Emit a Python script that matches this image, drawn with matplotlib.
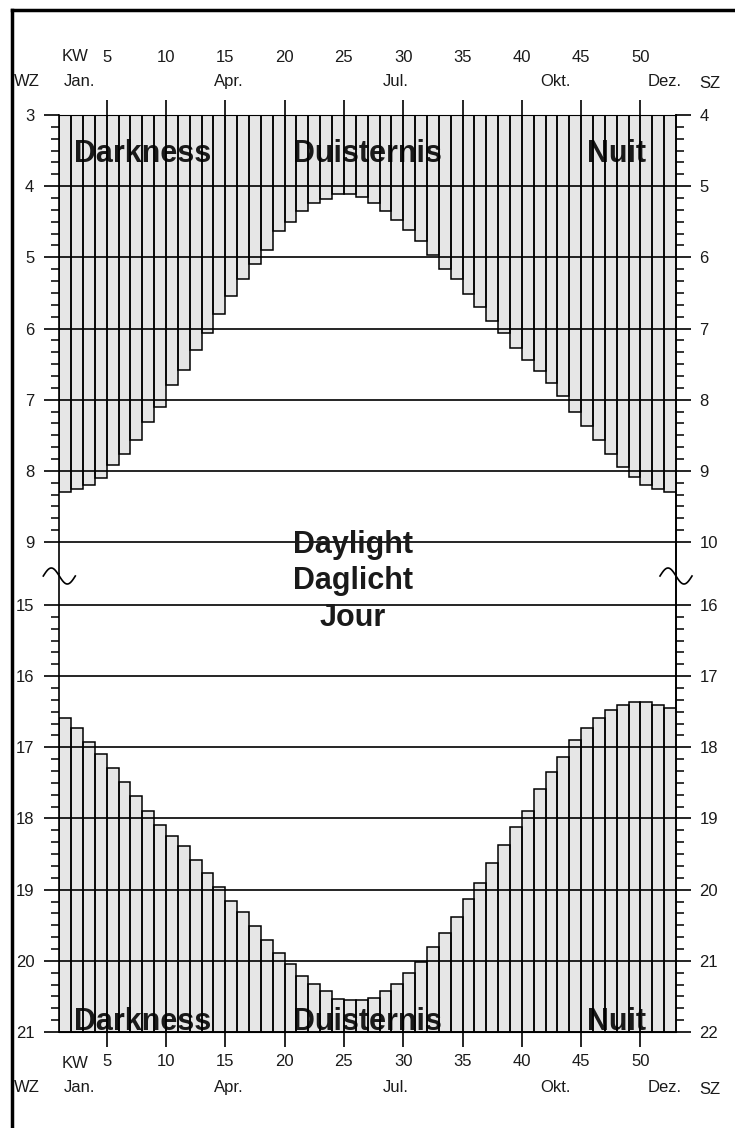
"""Weekly sunrise / sunset chart (WZ = winter time, SZ = summer time)."""

import numpy as np
import matplotlib.pyplot as plt
from matplotlib.lines import Line2D

plt.rcParams["font.family"] = ["Liberation Sans", "DejaVu Sans"]

# calendar weeks and times (decimal hours, winter time)
weeks = np.arange(1, 53)
sunrise_wz = [8.30, 8.26, 8.20, 8.10, 7.92, 7.76, 7.56, 7.31, 7.10, 6.80,
              6.58, 6.30, 6.07, 5.79, 5.55, 5.31, 5.09, 4.89, 4.63, 4.51,
              4.35, 4.23, 4.18, 4.11, 4.11, 4.15, 4.24, 4.35, 4.47, 4.61,
              4.77, 4.97, 5.17, 5.31, 5.51, 5.70, 5.90, 6.07, 6.27, 6.44,
              6.60, 6.77, 6.95, 7.17, 7.37, 7.56, 7.76, 7.95, 8.09, 8.20,
              8.25, 8.30]
sunset_wz = [16.59, 16.73, 16.93, 17.09, 17.29, 17.49, 17.68, 17.89, 18.09, 18.25,
             18.39, 18.59, 18.76, 18.96, 19.16, 19.32, 19.51, 19.71, 19.89, 20.05,
             20.22, 20.33, 20.43, 20.53, 20.55, 20.55, 20.52, 20.43, 20.33, 20.17,
             20.02, 19.80, 19.61, 19.38, 19.13, 18.90, 18.62, 18.37, 18.12, 17.89,
             17.58, 17.35, 17.13, 16.90, 16.73, 16.59, 16.47, 16.40, 16.37, 16.37,
             16.40, 16.45]

week_ticks = [5, 10, 15, 20, 25, 30, 35, 40, 45, 50]
month_labels = ["Jan.", "Apr.", "Jul.", "Okt.", "Dez."]
month_pos = [2.7, 15.3, 29.4, 42.8, 52.0]
dark_labels = ["Darkness", "Duisternis", "Nuit"]
dark_pos = [8.0, 27.0, 48.0]
day_labels = ["Daylight", "Daglicht", "Jour"]

W, H = 735, 1128
FILL = "#e6e6e6"
INK = "#1a1a1a"
LABEL_SIZE = 12


def fx(px):
    return px / W


def fy(py):
    return 1 - py / H


def style_axis(ax, hours, side):
    lo, hi = hours
    ax.set_xlim(1, 53)
    ax.set_yticks(range(lo, hi + 1))
    ax.set_yticks(np.arange(lo, hi + 0.01, 1 / 6), minor=True)
    ax.tick_params(axis="y", which="major", length=11, width=1.2, pad=7,
                   labelsize=LABEL_SIZE, labelcolor=INK)
    ax.tick_params(axis="y", which="minor", length=6, width=1.1)
    for h in range(lo, hi + 1):
        ax.axhline(h, color="black", lw=1.2, zorder=4)
    ax.set_xticks(week_ticks)
    if side == "top":
        ax.xaxis.tick_top()
        ax.tick_params(axis="x", length=11, width=1.2, pad=25,
                       labelsize=LABEL_SIZE, labelcolor=INK)
        ax.spines["bottom"].set_visible(False)
    else:
        ax.tick_params(axis="x", length=11, width=1.2, pad=5,
                       labelsize=LABEL_SIZE, labelcolor=INK)
        ax.spines["top"].set_visible(False)
    for s in ("left", "right"):
        ax.spines[s].set_linewidth(1.2)

    sec = ax.secondary_yaxis("right", functions=(lambda y: y + 1, lambda y: y - 1))
    sec.set_yticks(range(lo + 1, hi + 2))
    sec.set_yticks(np.arange(lo + 1, hi + 1.01, 1 / 6), minor=True)
    sec.tick_params(axis="y", which="major", length=11, width=1.2, pad=6,
                    labelsize=LABEL_SIZE, labelcolor=INK)
    sec.tick_params(axis="y", which="minor", length=6, width=1.1)
    sec.spines["right"].set_linewidth(1.2)


fig = plt.figure(figsize=(W / 100, H / 100), dpi=100)

# top panel: darkness before sunrise (3 - 9 h)
ax_top = fig.add_axes([fx(59.3), fy(574), fx(676) - fx(59.3), (574 - 115) / H])
ax_top.set_ylim(9 + 32 / 71.17, 3)
heights = np.array(sunrise_wz) - 3
ax_top.bar(weeks, heights, bottom=3, width=1, align="edge", color=FILL, lw=0, zorder=1)
for label, x in zip(dark_labels, dark_pos):
    ax_top.text(x, 3.66, label, ha="center", va="baseline", fontsize=22,
                fontweight="bold", color=INK, zorder=2)
ax_top.bar(weeks, heights, bottom=3, width=1, align="edge", fill=False,
           edgecolor="black", lw=1.1, zorder=3)
style_axis(ax_top, (3, 9), "top")

# bottom panel: darkness after sunset (15 - 21 h)
ax_bot = fig.add_axes([fx(59.3), fy(1032), fx(676) - fx(59.3), (1032 - 574) / H])
ax_bot.set_ylim(21, 15 - 31 / 71.17)
heights = 21 - np.array(sunset_wz)
ax_bot.bar(weeks, heights, bottom=sunset_wz, width=1, align="edge", color=FILL, lw=0, zorder=1)
for label, x in zip(dark_labels, dark_pos):
    ax_bot.text(x, 20.97, label, ha="center", va="baseline", fontsize=22,
                fontweight="bold", color=INK, zorder=2)
ax_bot.bar(weeks, heights, bottom=sunset_wz, width=1, align="edge", fill=False,
           edgecolor="black", lw=1.1, zorder=3)
style_axis(ax_bot, (15, 21), "bottom")

# month names, KW, WZ / SZ captions
for label, x in zip(month_labels, month_pos):
    ax_top.annotate(label, xy=(x, 1), xycoords=("data", "axes fraction"),
                    xytext=(0, 24), textcoords="offset points", ha="center",
                    va="center", fontsize=LABEL_SIZE, color=INK)
    ax_bot.annotate(label, xy=(x, 0), xycoords=("data", "axes fraction"),
                    xytext=(0, -40), textcoords="offset points", ha="center",
                    va="center", fontsize=LABEL_SIZE, color=INK)
ax_top.annotate("KW", xy=(2.3, 1), xycoords=("data", "axes fraction"),
                xytext=(0, 42), textcoords="offset points", ha="center",
                va="center", fontsize=LABEL_SIZE, color=INK)
ax_bot.annotate("KW", xy=(2.3, 0), xycoords=("data", "axes fraction"),
                xytext=(0, -22.5), textcoords="offset points", ha="center",
                va="center", fontsize=LABEL_SIZE, color=INK)
for py in (82, 1088):
    fig.text(fx(27), fy(py), "WZ", ha="center", va="center", fontsize=LABEL_SIZE, color=INK)
    fig.text(fx(710), fy(py + 2), "SZ", ha="center", va="center", fontsize=LABEL_SIZE, color=INK)

# daylight caption in the gap
for label, py in zip(day_labels, (553, 589, 626)):
    fig.text(fx(353), fy(py), label, ha="center", va="baseline", fontsize=22,
             fontweight="bold", color=INK)

# axis break marks
t = np.linspace(0, 2 * np.pi, 60)
for cx in (59.3, 676):
    fig.add_artist(Line2D(fx(cx - 16 + 32 * t / (2 * np.pi)), fy(576 - 8 * np.sin(t)),
                          color="black", lw=1.2))

# frame
fig.add_artist(Line2D([fx(12), fx(12)], [0, fy(10)], color="black", lw=2.5))
fig.add_artist(Line2D([fx(12), 1], [fy(10), fy(10)], color="black", lw=2.5))

fig.savefig("out.png", dpi=100)
plt.close(fig)
